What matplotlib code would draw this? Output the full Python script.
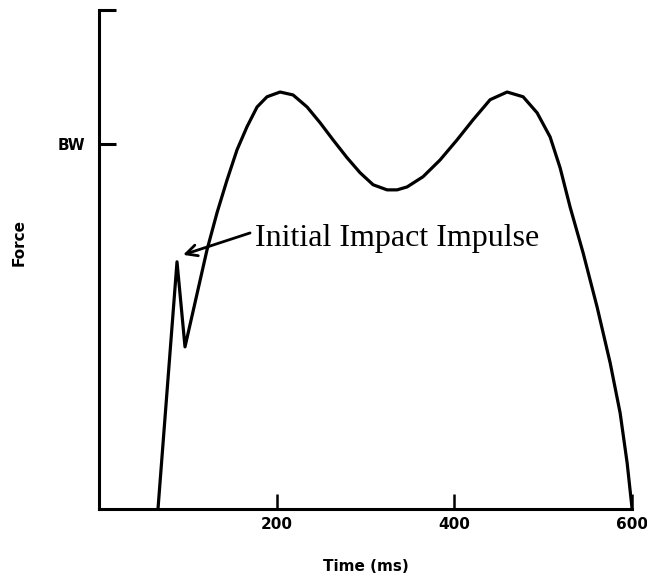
import matplotlib
matplotlib.use("Agg")
import matplotlib.pyplot as plt

# Data (time in ms, force in units of body weight)
time_ms = [66.4, 87.8, 96.8, 121.6, 132.8, 144.1, 155.4, 166.6, 177.9, 189.1,
           203.8, 218.4, 234.2, 248.8, 263.4, 279.2, 293.8, 308.5, 324.2, 335.5,
           346.7, 364.7, 383.9, 403.0, 421.0, 440.2, 459.3, 477.3, 493.1, 507.7,
           519.0, 530.2, 544.9, 560.6, 575.3, 586.5, 594.4, 600.0]
force_bw = [0.0, 0.677, 0.444, 0.710, 0.811, 0.901, 0.984, 1.047, 1.101, 1.129,
            1.142, 1.134, 1.101, 1.058, 1.011, 0.962, 0.921, 0.888, 0.874, 0.874,
            0.882, 0.910, 0.956, 1.011, 1.066, 1.121, 1.142, 1.129, 1.085, 1.019,
            0.934, 0.827, 0.701, 0.553, 0.400, 0.263, 0.126, 0.0]

x_ticks = [200, 400, 600]
x_tick_labels = ["200", "400", "600"]
y_ticks = [1.0, 1.367]
y_tick_labels = ["BW", ""]

annotation_text = "Initial Impact Impulse"
arrow_tip = (94.6, 0.696)
arrow_tail = (170.0, 0.756)
text_pos = (175.6, 0.720)

fig = plt.figure(figsize=(6.47, 5.81), dpi=100)
ax = fig.add_axes([0.153, 0.124, 0.824, 0.859])

ax.plot(time_ms, force_bw, color="black", lw=2.3, solid_joinstyle="round",
        solid_capstyle="butt")

ax.set_xlim(0, 600)
ax.set_ylim(0, 1.367)

for s in ["top", "right"]:
    ax.spines[s].set_visible(False)
for s in ["left", "bottom"]:
    ax.spines[s].set_linewidth(2.2)
    ax.spines[s].set_capstyle("projecting")

ax.set_xticks(x_ticks)
ax.set_xticklabels(x_tick_labels, fontsize=11, fontweight="bold")
ax.set_yticks(y_ticks)
ax.set_yticklabels(y_tick_labels, fontsize=11, fontweight="bold")
ax.tick_params(axis="y", direction="in", length=12, width=2.2, pad=10)
ax.tick_params(axis="x", direction="in", length=11, width=1.8, pad=6)

ax.set_xlabel("Time (ms)", fontsize=11, fontweight="bold", labelpad=19)
fig.text(19 / 647, 1 - 242 / 581, "Force", rotation=90, fontsize=11,
         fontweight="bold", ha="center", va="center")

ax.annotate("", xy=arrow_tip, xytext=arrow_tail,
            arrowprops=dict(arrowstyle="->", lw=2.0, color="black",
                            mutation_scale=20, shrinkA=0, shrinkB=0))
ax.text(text_pos[0], text_pos[1], annotation_text, fontsize=23,
        family="Liberation Serif", ha="left", va="baseline")

fig.savefig("out.png", dpi=100)
